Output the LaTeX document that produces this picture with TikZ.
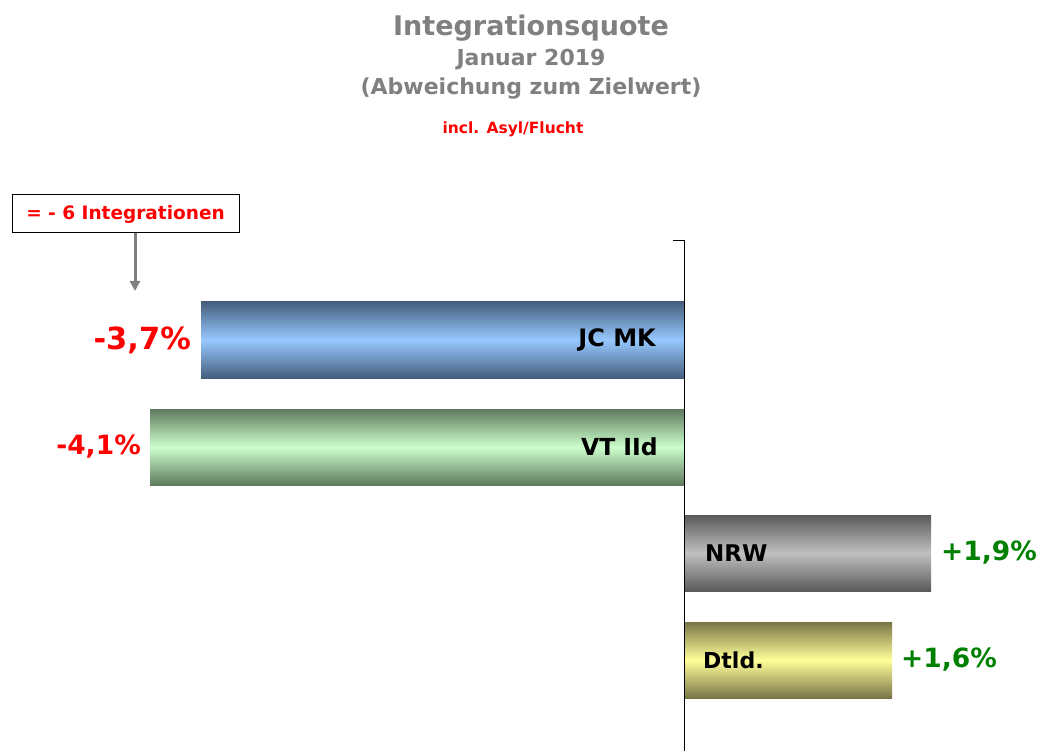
\documentclass[tikz,border=0pt]{standalone}
\usepackage{fontspec}
\setmainfont{DejaVu Sans}
\usetikzlibrary{arrows.meta}
\definecolor{titlegray}{RGB}{128,128,128}
\definecolor{redtxt}{RGB}{255,0,0}
\definecolor{greentxt}{RGB}{0,128,0}
\definecolor{bluedark}{RGB}{70,95,125}
\definecolor{bluelight}{RGB}{150,200,255}
\definecolor{greendark}{RGB}{95,122,95}
\definecolor{greenlight}{RGB}{204,255,204}
\definecolor{graydark}{RGB}{90,90,90}
\definecolor{graylight}{RGB}{192,192,192}
\definecolor{yellowdark}{RGB}{122,117,72}
\definecolor{yellowlight}{RGB}{255,255,153}
\tikzset{
  bar/.style={inner sep=0pt, outer sep=0pt, minimum height=76pt, anchor=north west},
  barlabel/.style={font=\bfseries\fontsize{23}{25}\selectfont, text=black, inner sep=0pt},
  pctred/.style={font=\bfseries\fontsize{26.5}{30}\selectfont, text=redtxt, inner sep=0pt},
  pctgreen/.style={font=\bfseries\fontsize{26.5}{30}\selectfont, text=greentxt, inner sep=0pt},
}
\begin{document}
\begin{tikzpicture}[x=1pt,y=-1pt]
\useasboundingbox (0,0) rectangle (1039,751);
% titles
\node[font=\bfseries\fontsize{27}{30}\selectfont, text=titlegray] (t1) at (531,28) {Integrationsquote};
\node[font=\bfseries\fontsize{22}{26}\selectfont, text=titlegray] (t2) at (531,60) {Januar 2019};
\node[font=\bfseries\fontsize{22}{26}\selectfont, text=titlegray] (t3) at (531,89) {(Abweichung zum Zielwert)};
\node[font=\bfseries\fontsize{15.5}{18}\selectfont, text=redtxt] (t4) at (513,129) {incl. Asyl/Flucht};
% note box
\node[draw=black, line width=1pt, fill=white, minimum width=227pt, minimum height=38pt, inner sep=0pt,
      font=\bfseries\fontsize{18.5}{20}\selectfont, text=redtxt] (box) at (125.5,214) {= - 6 Integrationen};
\coordinate (arrend) at (135,291);
\draw[titlegray, line width=3pt, -{Triangle[length=10pt,width=10pt]}] (box.south -| arrend) -- (arrend);
% axis
\coordinate (axtop) at (684,241);
\coordinate (axbot) at (684,751);
\coordinate (tick) at (673,241);
% bars
\node[bar, minimum width=483pt, top color=bluedark, bottom color=bluedark, middle color=bluelight] (b1) at (201,302) {};
\node[bar, minimum width=534pt, top color=greendark, bottom color=greendark, middle color=greenlight] (b2) at (150,409) {};
\node[bar, minimum width=247pt, top color=graydark, bottom color=graydark, middle color=graylight] (b3) at (684,515) {};
\node[bar, minimum width=208pt, top color=yellowdark, bottom color=yellowdark, middle color=yellowlight] (b4) at (684,622) {};
\draw[black, line width=1pt] (tick) -- (axtop) -- (axbot);
% bar labels
\node[barlabel, font=\bfseries\fontsize{24}{26}\selectfont, anchor=east] (l1) at ([xshift=-28pt]b1.east) {JC MK};
\node[barlabel, font=\bfseries\fontsize{23.5}{26}\selectfont, anchor=east] (l2) at ([xshift=-26pt]b2.east) {VT IId};
\node[barlabel, anchor=west] (l3) at ([xshift=21pt]b3.west) {NRW};
\node[barlabel, font=\bfseries\fontsize{22}{24}\selectfont, anchor=west] (l4) at ([xshift=19pt]b4.west) {Dtld.};
% values
\node[pctred, font=\bfseries\fontsize{30.5}{34}\selectfont, anchor=east] (v1) at ([xshift=-10pt]b1.west) {-3,7\%};
\node[pctred, anchor=east] (v2) at ([xshift=-9pt]b2.west) {-4,1\%};
\node[pctgreen, anchor=west] (v3) at ([xshift=10pt]b3.east) {+1,9\%};
\node[pctgreen, anchor=west] (v4) at ([xshift=9pt]b4.east) {+1,6\%};
\end{tikzpicture}
\end{document}
